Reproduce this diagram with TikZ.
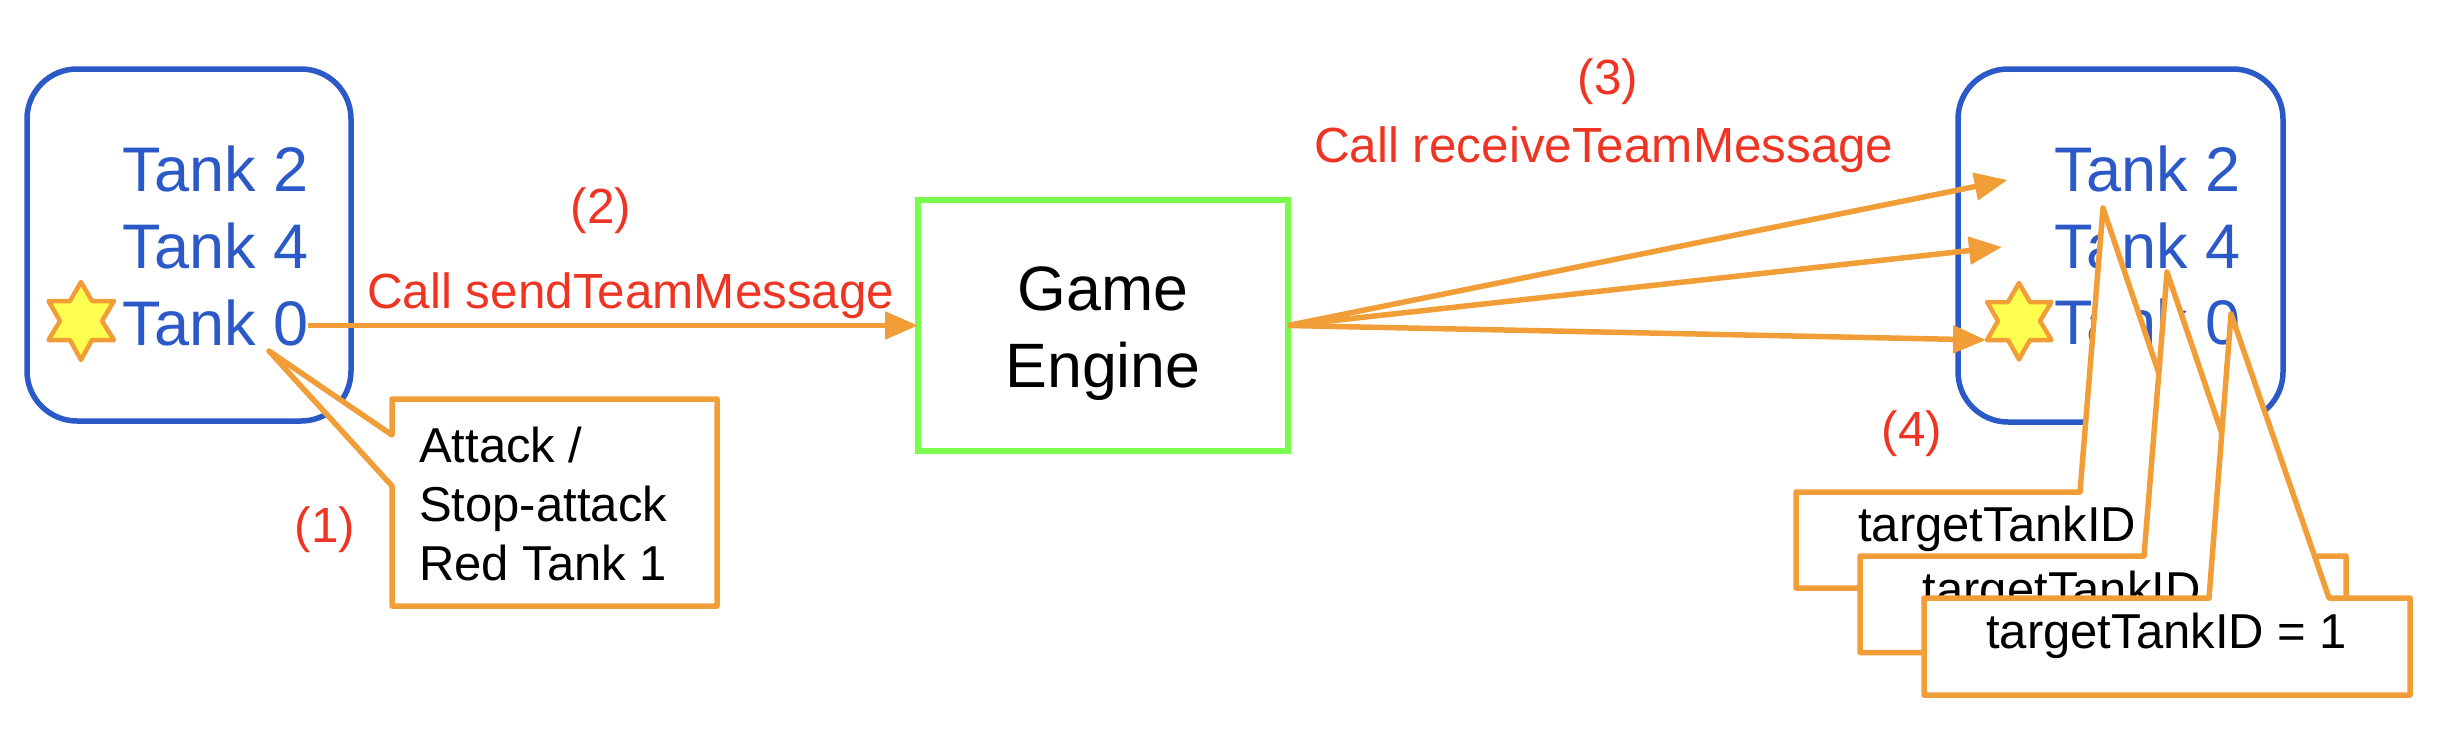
\documentclass[tikz,border=0pt]{standalone}
\usepackage{fontspec}
\setmainfont{Liberation Sans}
\usetikzlibrary{arrows.meta}
\definecolor{tblue}{HTML}{2B59C8}
\definecolor{tred}{HTML}{EE3524}
\definecolor{torange}{HTML}{F29E38}
\definecolor{tgreen}{HTML}{78FB4C}
\definecolor{tyellow}{HTML}{FFFF4F}
\tikzset{
  teambox/.style={draw=tblue,line width=5.5pt,rounded corners=50pt},
  tanktext/.style={text=tblue,inner sep=0pt,outer sep=0pt,anchor=base west,font=\fontsize{63}{77}\selectfont},
  redtext/.style={text=tred,inner sep=0pt,anchor=base west,font=\fontsize{49.4}{58}\selectfont},
  redmid/.style={text=tred,inner sep=0pt,anchor=base,font=\fontsize{49.4}{58}\selectfont},
  blacktext/.style={text=black,inner sep=0pt,anchor=base west,font=\fontsize{49}{59}\selectfont},
  enginebox/.style={draw=tgreen,line width=5.5pt,inner sep=0pt,outer sep=0pt,minimum width=370pt,minimum height=251pt,align=center,font=\fontsize{62.7}{77}\selectfont},
  flow/.style={draw=torange,line width=5.5pt,-{Triangle[length=33pt,width=27pt]}},
  calloutbox/.style={draw=torange,fill=white,line width=5.5pt,line join=round},
  starshape/.style={draw=torange,fill=tyellow,line width=4.5pt,line join=round}
}
\begin{document}
\begin{tikzpicture}[x=1pt,y=-1pt]
\useasboundingbox (0,0) rectangle (2440,736);
% left team
\draw[teambox] (27,69) rectangle (351,421);
\node[tanktext] (ltwo) at (122.5,191) {Tank 2};
\node[tanktext] (lfour) at (122.5,268) {Tank 4};
\node[tanktext] (lzero) at (122.5,345) {Tank 0};
\draw[starshape] (81,282) -- (92,301) -- (114,301) -- (102,321) -- (114,340) -- (92,340) -- (81,360) -- (70,340) -- (48.5,340) -- (60,321) -- (48.5,301) -- (70,301) -- cycle;
% engine
\node[enginebox] (engine) at (1103,325.5) {\rule{0pt}{60pt}Game\\Engine};
% right team
\draw[teambox] (1958,69) rectangle (2283,422);
\node[tanktext] (rtwo) at (2054.5,191) {Tank 2};
\node[tanktext] (rfour) at (2054.5,268) {Tank 4};
\node[tanktext] (rzero) at (2054.5,344) {Tank 0};
\draw[starshape] (2019,283) -- (2030,302) -- (2051.5,302) -- (2040,321) -- (2051.5,340) -- (2030,340) -- (2019,359.5) -- (2008,340) -- (1987,340) -- (1998,321) -- (1987,302) -- (2008,302) -- cycle;
% connectors
\coordinate (tiptwo) at (2007.5,180);
\coordinate (tipfour) at (2002,247);
\coordinate (tipzero) at (1986,340);
\draw[flow] (lzero.east |- engine.west) -- (engine.west);
\draw[flow] (engine.east) -- (tiptwo);
\draw[flow] (engine.east) -- (tipfour);
\draw[flow] (engine.east) -- (tipzero);
% left callout
\draw[calloutbox] (392,399) -- (717,399) -- (717,606) -- (392,606) -- (392,486) -- (269,351) -- (392,435) -- cycle;
\node[blacktext,align=left] (orders) at (419,580.5) {Attack /\\Stop-attack\\Red Tank 1};
% right callouts
\draw[calloutbox] (1796,492) -- (2080,492) -- (2103,208) -- (2199,492) -- (2282,492) -- (2282,588) -- (1796,588) -- cycle;
\node[blacktext] (targeta) at (1858,541.5) {targetTankID};
\draw[calloutbox] (1860,556) -- (2144,556) -- (2167,272) -- (2263.5,556) -- (2346,556) -- (2346,652.5) -- (1860,652.5) -- cycle;
\node[blacktext] (targetb) at (1922.5,606) {targetTankID};
\draw[calloutbox] (1924,598) -- (2209,598) -- (2231,314) -- (2329,598) -- (2410,598) -- (2410,695) -- (1924,695) -- cycle;
\node[blacktext] (targetc) at (1986,648) {targetTankID = 1};
% red labels
\node[redmid] (stepone) at (325,542) {(1)};
\node[redmid] (steptwo) at (601,223) {(2)};
\node[redtext] (sendlabel) at (367,308) {Call sendTeamMessage};
\node[redmid] (stepthree) at (1608,94) {(3)};
\node[redtext] (recvlabel) at (1314,162) {Call receiveTeamMessage};
\node[redmid] (stepfour) at (1912,446) {(4)};
\end{tikzpicture}
\end{document}
